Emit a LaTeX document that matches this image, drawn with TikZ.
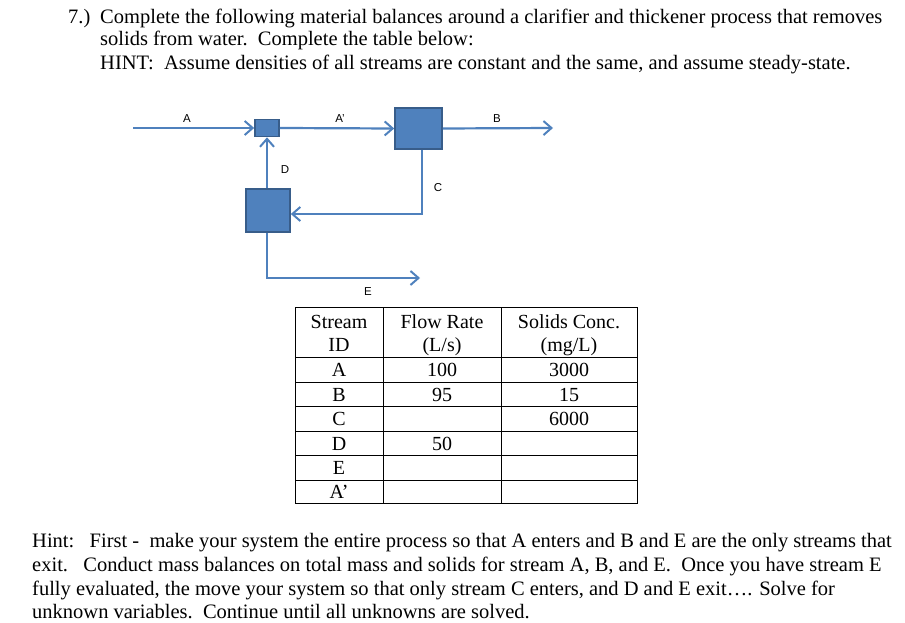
\documentclass[tikz,border=0pt]{standalone}
\usepackage{fontspec}
\setmainfont{Liberation Serif}
\newfontfamily\labfont{Liberation Sans}
\usetikzlibrary{arrows.meta}
\definecolor{flowblue}{HTML}{4F81BD}
\definecolor{boxedge}{HTML}{385D8A}
\begin{document}
\begin{tikzpicture}[x=1pt,y=-1pt,
  txt/.style={anchor=base west, inner sep=0pt, font=\fontsize{20.5}{24}\selectfont},
  flow/.style={draw=flowblue, line width=2.2pt, -{Straight Barb[length=8pt,width=14pt,line width=2pt]}},
  unit/.style={draw=boxedge, fill=flowblue, line width=1.6pt, inner sep=0pt},
  lab/.style={font=\labfont\fontsize{11.5}{13}\selectfont, inner sep=0pt},
  cell/.style={anchor=base, inner sep=0pt, font=\fontsize{20}{24}\selectfont},
  gridline/.style={draw=black, line width=0.8pt}]
\useasboundingbox (0,0) rectangle (905,623);

% title
\node[txt] (num) at (68,23.5) {7.)};
\node[txt] (t1) at (100,23.5) {Complete the following material balances around a clarifier and thickener process that removes};
\node[txt] (t2) at (100,46) {solids from water.\ \ Complete the table below:};
\node[txt] (t3) at (100,70) {HINT:\ \ Assume densities of all streams are constant and the same, and assume steady-state.};

% units
\node[unit, minimum width=24pt, minimum height=17pt] (mixer) at (267,128) {};
\node[unit, minimum width=47pt, minimum height=41pt] (clar) at (418.5,128.5) {};
\node[unit, minimum width=44pt, minimum height=43pt] (thick) at (268,210.5) {};

\coordinate (Ain) at (133,128);
\coordinate (Bout) at (553,128);
\coordinate (Eend) at (420,278);

\draw[flow] (Ain) -- (mixer.west);
\draw[flow] (mixer.east) -- (clar.west);
\draw[flow] (clar.east) -- (Bout);
\draw[flow] ([xshift=3.5pt]clar.south) |- ([yshift=-3.5pt]thick.east);
\draw[flow] (thick.north -| mixer.south) -- (mixer.south);
\draw[flow] (thick.south -| mixer.south) |- (Eend);

\node[lab] (lA) at (187,119) {A};
\node[lab] (lAp) at (340,119) {A’};
\node[lab] (lB) at (497,119) {B};
\node[lab] (lD) at (285,170) {D};
\node[lab] (lC) at (438,188) {C};
\node[lab] (lE) at (368,292) {E};

% table
\draw[gridline] (295,307) rectangle (637,503);
\foreach \x in {383,501} \draw[gridline] (\x,307) -- (\x,503);
\foreach \y in {357,382,406,431,455,480} \draw[gridline] (295,\y) -- (637,\y);

\node[cell] (h1a) at (339,328) {Stream};
\node[cell] (h1b) at (339,351) {ID};
\node[cell] (h2a) at (442,328) {Flow Rate};
\node[cell] (h2b) at (442,351) {(L/s)};
\node[cell] (h3a) at (569,328) {Solids Conc.};
\node[cell] (h3b) at (569,351) {(mg/L)};

\node[cell] (rA) at (339,376) {A};
\node[cell] (rB) at (339,401) {B};
\node[cell] (rC) at (339,425) {C};
\node[cell] (rD) at (339,450) {D};
\node[cell] (rE) at (339,474) {E};
\node[cell] (rAp) at (339,498) {A’};

\node[cell] (fA) at (442,376) {100};
\node[cell] (fB) at (442,401) {95};
\node[cell] (fD) at (442,450) {50};
\node[cell] (cA) at (569,376) {3000};
\node[cell] (cB) at (569,401) {15};
\node[cell] (cC) at (569,425) {6000};

% hint
\node[txt] (b1) at (32,547) {Hint:\ \ \ First -\ \ make your system the entire process so that A enters and B and E are the only streams that};
\node[txt] (b2) at (32,571) {exit.\ \ \ Conduct mass balances on total mass and solids for stream A, B, and E.\ \ Once you have stream E};
\node[txt] (b3) at (32,595) {fully evaluated, the move your system so that only stream C enters, and D and E exit…. Solve for};
\node[txt] (b4) at (32,618) {unknown variables.\ \ Continue until all unknowns are solved.};
\end{tikzpicture}
\end{document}
